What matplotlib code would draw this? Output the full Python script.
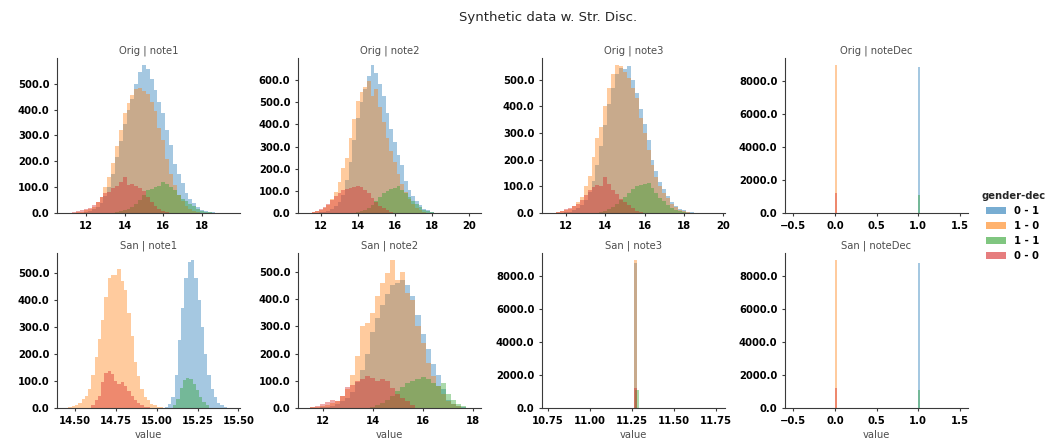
import matplotlib

matplotlib.use("Agg")
import matplotlib.pyplot as plt
import numpy as np
from matplotlib.patches import Patch
from matplotlib.ticker import FormatStrFormatter, MultipleLocator

FIG_W_PX = 1061
FIG_H_PX = 441
DPI = 100

HUE_LABELS = ["0 - 1", "1 - 0", "1 - 1", "0 - 0"]
HUE_COLORS = ["#1f77b4", "#ff7f0e", "#2ca02c", "#d62728"]
ROW_NAMES = ["Orig", "San"]
COL_NAMES = ["note1", "note2", "note3", "noteDec"]

# --- histogram counts, one list per hue ------------------------------------
# order of each *_STARTS list follows HUE_LABELS: 0-1, 1-0, 1-1, 0-0

ORIG_NOTE1_WIDTH = 0.2
ORIG_NOTE1_STARTS = [11.9, 11.5, 13.5, 11.3]
ORIG_NOTE1_01 = [5, 8, 14, 22, 40, 65, 100, 150, 215, 280, 345, 400, 440, 500, 545, 571,
                 556, 520, 476, 430, 386, 320, 262, 190, 150, 115, 78, 55, 38, 22, 12, 7,
                 3, 2, 1]
ORIG_NOTE1_10 = [2, 4, 10, 16, 25, 42, 62, 100, 140, 195, 260, 320, 385, 425, 455, 478,
                 484, 470, 462, 430, 395, 330, 282, 210, 150, 110, 70, 45, 28, 16, 8, 3]
ORIG_NOTE1_11 = [3, 6, 10, 16, 25, 36, 50, 68, 88, 92, 100, 106, 120, 112, 102, 90, 70,
                 56, 46, 36, 26, 16, 9, 5, 2]
ORIG_NOTE1_00 = [3, 6, 10, 17, 20, 30, 43, 62, 78, 82, 95, 105, 118, 140, 108, 112, 104,
                 95, 85, 62, 42, 28, 16, 8, 3]

ORIG_NOTE2_WIDTH = 0.2
ORIG_NOTE2_STARTS = [11.9, 11.5, 13.9, 11.5]
ORIG_NOTE2_01 = [3, 6, 10, 18, 30, 50, 80, 150, 230, 330, 430, 500, 560, 620, 666, 630,
                 580, 530, 450, 380, 320, 260, 215, 145, 105, 75, 55, 35, 20, 12, 5, 2]
ORIG_NOTE2_10 = [4, 8, 14, 22, 35, 62, 95, 140, 205, 250, 340, 425, 505, 545, 570, 597,
                 530, 560, 480, 410, 340, 280, 230, 175, 130, 95, 62, 40, 24, 13, 5]
ORIG_NOTE2_11 = [4, 8, 14, 24, 38, 55, 72, 88, 100, 108, 112, 120, 105, 90, 72, 55, 40,
                 25, 14, 7, 3, 1]
ORIG_NOTE2_00 = [4, 8, 16, 26, 40, 58, 75, 92, 102, 108, 113, 116, 120, 118, 105, 88, 68,
                 48, 32, 22, 12, 5]

ORIG_NOTE3_WIDTH = 0.2
ORIG_NOTE3_STARTS = [11.9, 11.5, 13.7, 11.5]
ORIG_NOTE3_01 = [2, 5, 10, 18, 30, 50, 80, 120, 180, 250, 330, 410, 470, 520, 545, 540,
                 552, 500, 450, 390, 335, 272, 200, 158, 115, 90, 62, 40, 26, 16, 10, 5,
                 3, 1]
ORIG_NOTE3_10 = [3, 6, 10, 16, 26, 40, 60, 100, 140, 210, 280, 322, 400, 470, 520, 553,
                 552, 530, 505, 470, 430, 355, 300, 235, 180, 135, 100, 75, 55, 35, 22,
                 12, 6, 2]
ORIG_NOTE3_11 = [4, 8, 14, 22, 33, 48, 60, 74, 90, 100, 106, 110, 112, 95, 75, 58, 45,
                 30, 18, 11, 7, 4, 1]
ORIG_NOTE3_00 = [3, 8, 15, 20, 25, 35, 48, 68, 85, 98, 104, 100, 135, 110, 88, 70, 52,
                 40, 30, 18, 9, 4]

ORIG_DEC_WIDTH = 0.02
ORIG_DEC_STARTS = [1.0, 0.0, 1.0, 0.0]
ORIG_DEC_01 = [8844]
ORIG_DEC_10 = [8925]
ORIG_DEC_11 = [1085]
ORIG_DEC_00 = [1206]

SAN_NOTE1_WIDTH = 0.02
SAN_NOTE1_STARTS = [15.05, 14.46, 15.10, 14.60]
SAN_NOTE1_01 = [4, 15, 40, 120, 250, 370, 480, 540, 545, 480, 400, 300, 200, 120, 70, 40,
                20, 10, 4]
SAN_NOTE1_10 = [3, 6, 10, 20, 32, 45, 70, 120, 190, 255, 325, 410, 480, 492, 490, 515,
                470, 435, 350, 265, 170, 118, 70, 40, 28, 16, 10, 5, 2]
SAN_NOTE1_11 = [10, 35, 75, 105, 112, 108, 90, 65, 42, 22, 10]
SAN_NOTE1_00 = [12, 28, 45, 95, 128, 135, 125, 100, 90, 95, 80, 62, 45, 30, 18, 10, 5, 2]

SAN_NOTE2_WIDTH = 0.2
SAN_NOTE2_STARTS = [11.9, 11.5, 13.9, 11.5]
SAN_NOTE2_01 = [2, 4, 8, 14, 24, 38, 60, 95, 140, 200, 280, 330, 380, 420, 450, 460, 470,
                450, 410, 340, 270, 215, 160, 120, 70, 30, 14, 6, 2]
SAN_NOTE2_10 = [2, 4, 8, 12, 18, 27, 45, 70, 120, 190, 300, 312, 348, 410, 460, 494, 542,
                470, 500, 421, 397, 300, 239, 166, 118, 81, 50, 27, 14, 6]
SAN_NOTE2_11 = [4, 10, 18, 30, 45, 62, 78, 92, 100, 108, 112, 105, 92, 82, 90, 50, 28,
                15, 6]
SAN_NOTE2_00 = [5, 8, 15, 22, 28, 24, 45, 78, 85, 100, 108, 118, 110, 100, 106, 98, 72,
                52, 36, 24, 12]

SAN_NOTE3_WIDTH = 0.02
SAN_NOTE3_STARTS = [11.26, 11.26, 11.27, 11.26]
SAN_NOTE3_01 = [8800]
SAN_NOTE3_10 = [8940]
SAN_NOTE3_11 = [1080]
SAN_NOTE3_00 = [1220]

SAN_DEC_WIDTH = 0.02
SAN_DEC_STARTS = [1.0, 0.0, 1.0, 0.0]
SAN_DEC_01 = [8800]
SAN_DEC_10 = [8940]
SAN_DEC_11 = [1080]
SAN_DEC_00 = [1200]

# x ranges and x tick spacing of each panel as shown in the reference
X_LIMITS = [
    [(10.50, 19.97), (10.76, 20.67), (10.78, 20.09), (-0.60, 1.60)],
    [(14.39, 15.51), (11.02, 18.31), (10.714, 11.804), (-0.60, 1.60)],
]
X_TICK_STEPS = [
    [2, 2, 2, 0.5],
    [0.25, 2, 0.25, 0.5],
]

PANELS = [
    [
        (ORIG_NOTE1_WIDTH, ORIG_NOTE1_STARTS, [ORIG_NOTE1_01, ORIG_NOTE1_10, ORIG_NOTE1_11, ORIG_NOTE1_00]),
        (ORIG_NOTE2_WIDTH, ORIG_NOTE2_STARTS, [ORIG_NOTE2_01, ORIG_NOTE2_10, ORIG_NOTE2_11, ORIG_NOTE2_00]),
        (ORIG_NOTE3_WIDTH, ORIG_NOTE3_STARTS, [ORIG_NOTE3_01, ORIG_NOTE3_10, ORIG_NOTE3_11, ORIG_NOTE3_00]),
        (ORIG_DEC_WIDTH, ORIG_DEC_STARTS, [ORIG_DEC_01, ORIG_DEC_10, ORIG_DEC_11, ORIG_DEC_00]),
    ],
    [
        (SAN_NOTE1_WIDTH, SAN_NOTE1_STARTS, [SAN_NOTE1_01, SAN_NOTE1_10, SAN_NOTE1_11, SAN_NOTE1_00]),
        (SAN_NOTE2_WIDTH, SAN_NOTE2_STARTS, [SAN_NOTE2_01, SAN_NOTE2_10, SAN_NOTE2_11, SAN_NOTE2_00]),
        (SAN_NOTE3_WIDTH, SAN_NOTE3_STARTS, [SAN_NOTE3_01, SAN_NOTE3_10, SAN_NOTE3_11, SAN_NOTE3_00]),
        (SAN_DEC_WIDTH, SAN_DEC_STARTS, [SAN_DEC_01, SAN_DEC_10, SAN_DEC_11, SAN_DEC_00]),
    ],
]

# layout in pixels (left edges of columns, top edges of rows)
COL_LEFT_PX = [57, 298, 542, 785]
ROW_TOP_PX = [58, 253]
AX_W_PX = 183
AX_H_PX = 155

TEXT_SIZE = 7.2
AXIS_GRAY = "#3a3a3a"
LABEL_GRAY = "#4d4d4d"


def style_axis(ax: plt.Axes, x_step: float) -> None:
    """Despine and format ticks like the seaborn grid."""
    for side in ("top", "right"):
        ax.spines[side].set_visible(False)
    for side in ("left", "bottom"):
        ax.spines[side].set_color(AXIS_GRAY)
        ax.spines[side].set_linewidth(0.8)
    ax.xaxis.set_major_locator(MultipleLocator(x_step))
    ax.yaxis.set_major_formatter(FormatStrFormatter("%.1f"))
    ax.tick_params(length=2, width=0.8, color=AXIS_GRAY, pad=3.5, labelsize=TEXT_SIZE)
    for lab in ax.get_xticklabels() + ax.get_yticklabels():
        lab.set_fontweight("bold")


def draw_panel(ax: plt.Axes, width: float, starts: list, counts_by_hue: list) -> None:
    """Draw the overlapping per-hue histograms of one panel."""
    for start, counts, color in zip(starts, counts_by_hue, HUE_COLORS):
        edges = start + width * np.arange(len(counts) + 1)
        ax.stairs(counts, edges, fill=True, color=color, alpha=0.4, linewidth=0)


def main() -> None:
    plt.rcParams["font.family"] = ["DejaVu Sans"]
    fig = plt.figure(figsize=(FIG_W_PX / DPI, FIG_H_PX / DPI), dpi=DPI)

    for r, row_name in enumerate(ROW_NAMES):
        for c, col_name in enumerate(COL_NAMES):
            rect = [
                COL_LEFT_PX[c] / FIG_W_PX,
                1 - (ROW_TOP_PX[r] + AX_H_PX) / FIG_H_PX,
                AX_W_PX / FIG_W_PX,
                AX_H_PX / FIG_H_PX,
            ]
            ax = fig.add_axes(rect)
            width, starts, counts_by_hue = PANELS[r][c]
            draw_panel(ax, width, starts, counts_by_hue)
            top = max(max(cnt) for cnt in counts_by_hue) * 1.05
            ax.set_ylim(0, top)
            ax.set_xlim(*X_LIMITS[r][c])
            ax.set_title(f"{row_name} | {col_name}", fontsize=TEXT_SIZE, color=LABEL_GRAY, pad=3)
            if r == 1:
                ax.set_xlabel("value", fontsize=TEXT_SIZE, color=LABEL_GRAY, labelpad=3)
            style_axis(ax, X_TICK_STEPS[r][c])

    fig.suptitle("Synthetic data w. Str. Disc.", x=548 / FIG_W_PX, y=1 - 18 / FIG_H_PX,
                 va="center", fontsize=9.5, color="#262626")

    handles = [Patch(facecolor=col, alpha=0.6, linewidth=0) for col in HUE_COLORS]
    leg = fig.legend(handles, HUE_LABELS, title="gender-dec", loc="center left",
                     bbox_to_anchor=(972 / FIG_W_PX, 1 - 226 / FIG_H_PX), frameon=False,
                     prop={"size": TEXT_SIZE, "weight": "bold"},
                     title_fontproperties={"size": TEXT_SIZE, "weight": "bold"})
    leg.get_title().set_color("#262626")

    fig.savefig("out.png", dpi=DPI)


if __name__ == "__main__":
    main()
